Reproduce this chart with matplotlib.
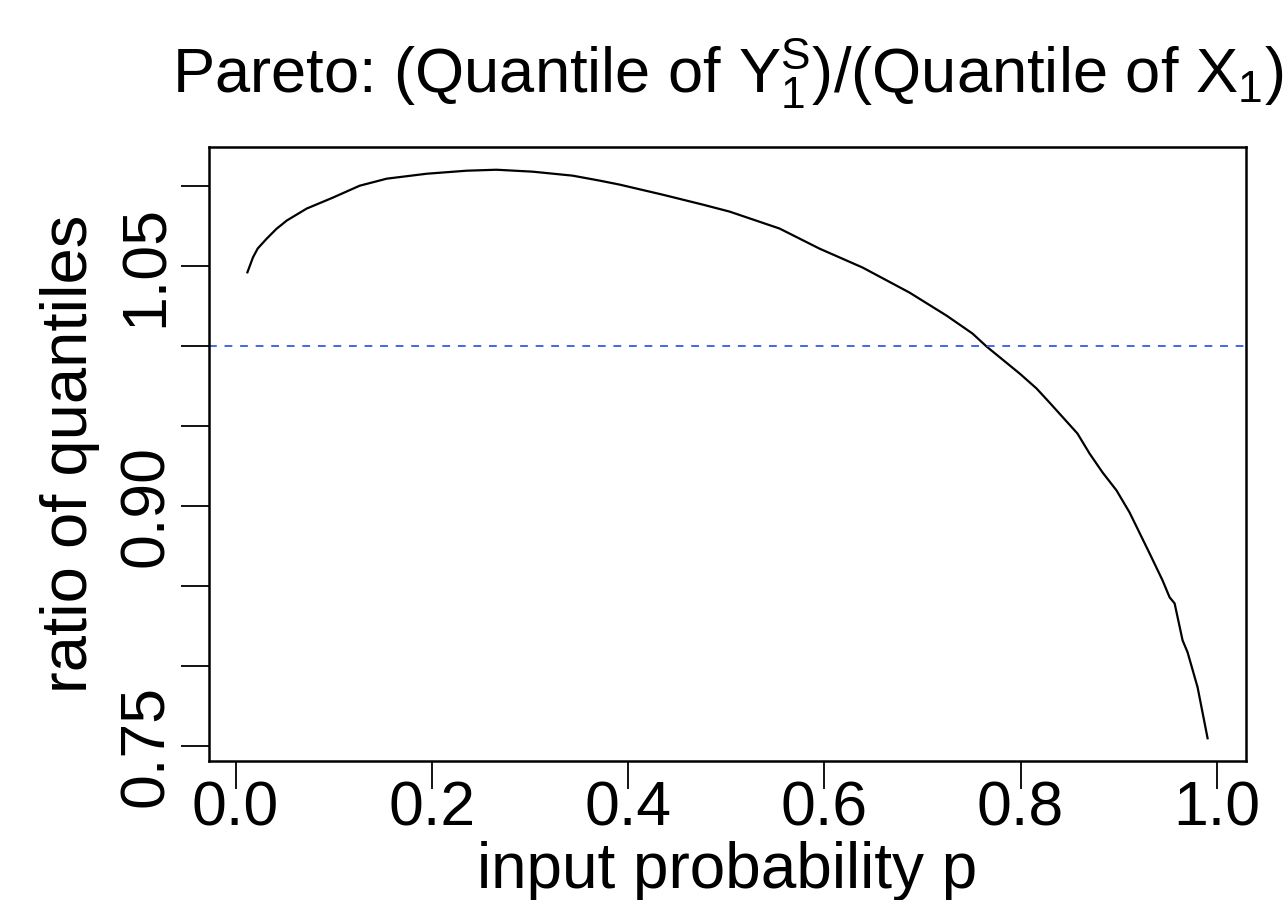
import matplotlib
matplotlib.use("Agg")
import matplotlib.pyplot as plt
import numpy as np

plt.rcParams['font.family'] = ['Liberation Sans', 'DejaVu Sans']
plt.rcParams['mathtext.fontset'] = 'custom'
plt.rcParams['mathtext.rm'] = 'Liberation Sans'
plt.rcParams['mathtext.it'] = 'Liberation Sans'

# values
p = [0.0121, 0.0178, 0.0226, 0.0318, 0.0417, 0.0522, 0.0725, 0.099, 0.1265,
     0.154, 0.1948, 0.2355, 0.266, 0.3027, 0.3435, 0.371, 0.3914, 0.4352,
     0.476, 0.5035, 0.5544, 0.5952, 0.639, 0.6869, 0.7246, 0.751, 0.7653,
     0.799, 0.8163, 0.8295, 0.858, 0.8703, 0.8835, 0.8978, 0.9111, 0.9315,
     0.9447, 0.9519, 0.957, 0.9651, 0.9702, 0.9804, 0.9906]
ratio = [1.0462, 1.0556, 1.0611, 1.0673, 1.0734, 1.0786, 1.0861, 1.0929,
         1.1004, 1.1048, 1.1079, 1.1098, 1.1104, 1.1092, 1.1067, 1.1036,
         1.1011, 1.0948, 1.0886, 1.0842, 1.0736, 1.0610, 1.0492, 1.0335,
         1.0191, 1.0079, 0.9998, 0.9829, 0.9735, 0.9647, 0.9453, 0.9328,
         0.9210, 0.9097, 0.8959, 0.8703, 0.8534, 0.8428, 0.8390, 0.8159,
         0.8084, 0.7865, 0.7546]
xticks = [0.0, 0.2, 0.4, 0.6, 0.8, 1.0]
yticks = [0.75, 0.80, 0.85, 0.90, 0.95, 1.00, 1.05, 1.10]
ylabels = ['0.75', '', '', '0.90', '', '', '1.05', '']
ref = 1.0

fig = plt.figure(figsize=(12.85, 9), dpi=100)
ax = fig.add_axes([209/1285, 1-761/900, (1246-209)/1285, (761-147)/900])

ax.plot(p, ratio, color='black', lw=1.6)
ax.axhline(ref, color='royalblue', lw=1.4, dashes=(4, 4))

xr = max(p) - min(p)
yr = max(ratio) - min(ratio)
ax.set_xlim(min(p) - 0.04*xr, max(p) + 0.04*xr)
ax.set_ylim(min(ratio) - 0.04*yr, max(ratio) + 0.04*yr)

ax.set_xticks(xticks)
ax.set_xticklabels([f"{t:.1f}" for t in xticks])
ax.set_yticks(yticks)
ax.set_yticklabels(ylabels, rotation=90, va='center')
ax.tick_params(length=20, width=1.3, labelsize=45)
ax.tick_params(axis='x', pad=-7)
ax.tick_params(axis='y', pad=4)
for s in ax.spines.values():
    s.set_linewidth(1.8)

ax.set_xlabel('input probability p', fontsize=46, va='baseline')
ax.xaxis.set_label_coords(0.5, -(888-761)/614)
ax.set_ylabel('ratio of quantiles', fontsize=47, va='baseline')
ax.yaxis.set_label_coords(-(209-87)/1037, 0.5)

fig.text(0.5*(209+1246)/1285, 1-92/900,
         r'Pareto: (Quantile of $\mathregular{Y_1^S}$)/(Quantile of $\mathregular{X_1}$)',
         fontsize=45.5, ha='center', va='baseline')

fig.savefig('out.png', dpi=100)
